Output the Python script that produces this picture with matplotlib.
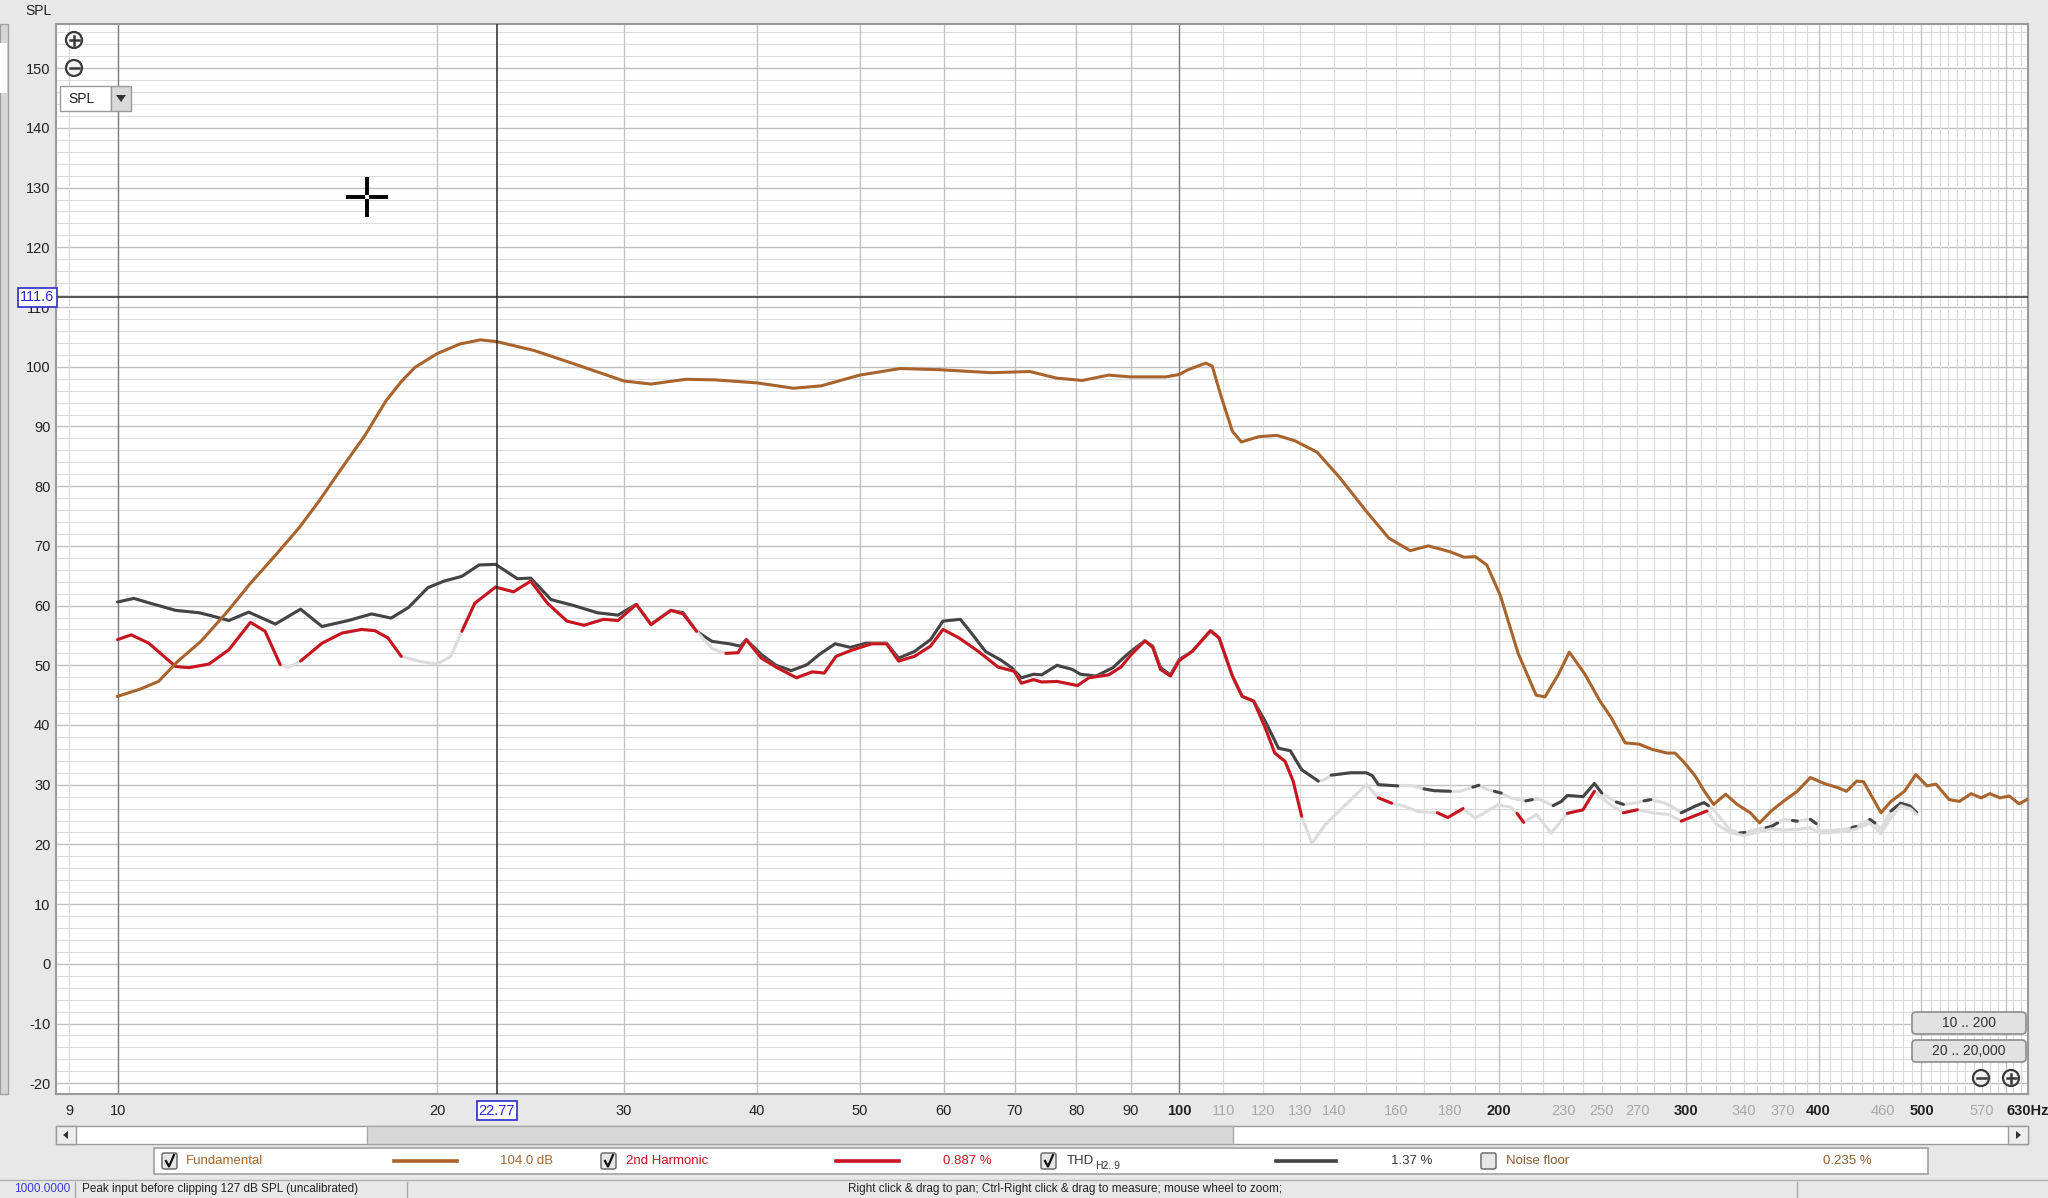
import numpy as np
import matplotlib
matplotlib.use('Agg')
import matplotlib.pyplot as plt
from matplotlib.patches import Rectangle, FancyBboxPatch, Circle, Polygon
from matplotlib.ticker import NullLocator, NullFormatter

plt.rcParams['font.family'] = ['Liberation Sans', 'DejaVu Sans']

# ---------------- data ----------------
fund_freq = [10, 10.5, 10.93, 11.4, 11.98, 12.69, 13.32, 14.11, 14.82, 15.48, 16.2, 17.1, 17.9,
             18.5, 19.06, 20.0, 21.0, 21.96, 22.77, 24.7, 27.2, 30.0, 31.8, 34.3, 36.5, 40, 43.3, 46,
             50, 54.6, 59.5, 66.5, 72.3, 76.6, 81, 85.8, 89.8, 97.1, 100, 101.9, 105.9, 107.4,
             109.5, 112.2, 114.4, 118.9, 123.6, 128.5, 134.8, 141.5, 150, 157.5, 165, 171.6, 180,
             185.4, 190, 194.8, 200.6, 208.5, 216.8, 221, 227.6, 233, 241, 249, 255, 263, 271,
             279, 288, 293, 299, 306, 312, 318.6, 327, 335.3, 345, 352, 361, 370.5, 382, 393,
             405, 417, 425, 434.5, 441, 458, 468, 482, 494, 506, 516, 531, 543, 557, 569, 580,
             593, 605, 618, 630]
fund_db = [44.8, 46.0, 47.3, 50.7, 54.0, 59.0, 63.6, 68.6, 73.0, 77.5, 82.6, 88.5, 94.3,
           97.5, 99.9, 102.2, 103.8, 104.5, 104.2, 102.7, 100.2, 97.6, 97.1, 97.9, 97.8, 97.3, 96.4, 96.8,
           98.6, 99.7, 99.5, 99.0, 99.2, 98.1, 97.7, 98.6, 98.3, 98.3, 98.7, 99.5, 100.6, 100.1,
           95.0, 89.2, 87.4, 88.3, 88.5, 87.6, 85.7, 81.5, 75.8, 71.3, 69.2, 70.0, 69.0,
           68.1, 68.2, 66.8, 61.7, 52.0, 45.0, 44.7, 48.5, 52.2, 48.5, 44.0, 41.3, 37.0, 36.8,
           35.9, 35.3, 35.3, 33.7, 31.5, 29.0, 26.7, 28.4, 26.7, 25.3, 23.6, 25.6, 27.2, 28.9, 31.2,
           30.2, 29.5, 28.9, 30.6, 30.5, 25.3, 27.2, 28.9, 31.7, 29.8, 30.1, 27.5, 27.2, 28.5, 27.8, 28.5,
           27.8, 28.1, 26.8, 27.6]

h2_freq = [10, 10.3, 10.7, 11.34, 11.67, 12.19, 12.73, 13.34, 13.77, 14.23, 14.5, 14.87, 15.58,
           16.27, 16.97, 17.47, 17.97, 18.5, 19.2, 20, 20.6, 21.1, 21.7, 22.7, 23.6, 24.5, 25.4,
           26.5, 27.5, 28.7, 29.6, 30.8, 31.8, 33.2, 34.1, 35.1, 36.3, 37.4, 38.4, 39.1, 40.4,
           41.7, 43.6, 45.1, 46.3, 47.5, 49.1, 51.3, 53, 54.4, 56.3, 58.3, 59.9, 62, 64.7, 67.5,
           69.9, 71, 72.9, 74.2, 76.7, 80.2, 82.2, 85.8, 88.1, 90, 92.8, 94.4, 96, 98.1, 100,
           102.8, 107, 109, 112.2, 114.6, 117.5, 120.5, 123, 125.8, 128, 130.4, 133.3, 137.2,
           143, 150, 154, 158.5, 163, 167.8, 175, 179, 185, 190, 199.5, 205, 208, 211, 217, 224,
           232, 240, 246, 254, 262, 270, 279, 289, 297, 308, 314, 320, 330, 340, 350, 361, 370,
           382, 393, 401, 410, 425, 434, 447, 458, 468, 478, 488, 495]
h2_db = [54.3, 55.1, 53.7, 49.8, 49.6, 50.2, 52.6, 57.2, 55.7, 50.1, 49.7, 50.7, 53.7,
         55.4, 56.0, 55.8, 54.6, 51.5, 50.7, 50.2, 51.5, 55.7, 60.4, 63.1, 62.3, 64.1, 60.4,
         57.4, 56.7, 57.7, 57.5, 60.2, 56.8, 59.2, 58.6, 55.7, 52.8, 52.0, 52.1, 54.3, 51.2,
         49.7, 47.9, 48.9, 48.7, 51.5, 52.5, 53.6, 53.6, 50.7, 51.5, 53.2, 56.0, 54.6, 52.3, 49.7,
         49.0, 47.0, 47.6, 47.2, 47.3, 46.6, 47.9, 48.4, 49.7, 51.7, 54.1, 53.0, 49.3, 48.2, 50.8,
         52.3, 55.8, 54.6, 48.2, 44.8, 44.0, 39.5, 35.3, 33.9, 30.6, 24.7, 20.2, 23.3,
         26.4, 30.0, 27.8, 26.9, 26.4, 25.5, 25.3, 24.5, 26.0, 24.4, 26.6, 26.3, 25.2, 23.7, 25.0, 21.9,
         25.2, 25.8, 28.9, 26.8, 25.3, 25.8, 25.3, 25.0, 23.9, 25.0, 25.6, 23.5, 22.0, 21.5, 22.0, 22.6, 22.4,
         22.5, 22.8, 21.9, 22.0, 22.2, 22.6, 23.6, 21.8, 24.5, 26.5, 26.0, 25.0]
h2_above = [1, 1, 1, 1, 1, 1, 1, 1, 1, 1, 0, 1, 1,
            1, 1, 1, 1, 1, 0, 0, 0, 1, 1, 1, 1, 1, 1,
            1, 1, 1, 1, 1, 1, 1, 1, 1, 0, 1, 1, 1, 1,
            1, 1, 1, 1, 1, 1, 1, 1, 1, 1, 1, 1, 1, 1, 1,
            1, 1, 1, 1, 1, 1, 1, 1, 1, 1, 1, 1, 1, 1, 1,
            1, 1, 1, 1, 1, 1, 1, 1, 1, 1, 1, 0, 0,
            0, 0, 1, 1, 0, 0, 1, 1, 1, 0, 0, 0, 1, 1, 0, 0,
            1, 1, 1, 0, 1, 1, 0, 0, 1, 1, 1, 0, 0, 0, 0, 0, 0,
            0, 0, 0, 0, 0, 0, 0, 0, 0, 0, 0, 0]

thd_freq = [10, 10.36, 10.78, 11.34, 11.93, 12.19, 12.73, 13.29, 14.08, 14.87, 15.58, 16.5, 17.35,
            18.1, 18.8, 19.6, 20.3, 21.1, 21.9, 22.7, 23.8, 24.5, 25.6, 26.9, 28.3, 29.6, 30.8,
            31.8, 33.2, 34.1, 35.1, 36.3, 37.7, 38.6, 39.1, 40.4, 41.7, 43.1, 44.6, 45.8, 47.4,
            49, 50.7, 53, 54.4, 56.3, 58.3, 59.9, 62.2, 63.7, 65.7, 68, 69.5, 71, 72.9, 74.2,
            76.7, 79.3, 80.7, 83.5, 86.6, 88.9, 90, 92.8, 94.4, 96, 98.1, 100, 102.8, 107, 109,
            112.2, 114.6, 117.5, 120.5, 124, 127.2, 130.4, 135.2, 137, 139, 145, 150, 152, 154,
            160.6, 163, 166, 170, 173.8, 180, 184, 189, 191.5, 195, 198, 201, 205, 209, 212, 215,
            218, 225, 229, 232, 240, 246, 250, 254, 258, 262, 266, 270, 274, 278, 282, 286, 292,
            297, 302, 306, 312, 315, 318.6, 330, 337, 341, 349, 357, 361, 366, 370.5, 378, 382,
            388, 393, 398, 401, 410, 425, 430, 434, 440, 447, 452, 458, 468, 478, 488, 495]
thd_db = [60.6, 61.2, 60.3, 59.2, 58.8, 58.4, 57.5, 58.9, 56.9, 59.4, 56.5, 57.5, 58.6,
          57.9, 59.7, 63.0, 64.1, 64.9, 66.8, 66.9, 64.5, 64.6, 61.0, 60.0, 58.8, 58.4, 60.2,
          56.9, 59.2, 58.8, 55.7, 54.0, 53.6, 53.2, 54.3, 51.8, 50.0, 49.1, 50.1, 51.8, 53.6,
          53.0, 53.7, 53.7, 51.2, 52.3, 54.3, 57.4, 57.7, 55.4, 52.3, 50.8, 49.6, 47.9, 48.5, 48.4,
          50.0, 49.3, 48.5, 48.2, 49.6, 51.5, 52.3, 54.1, 53.2, 49.6, 48.4, 51.0, 52.3, 55.8, 54.6,
          48.2, 44.8, 44.0, 40.6, 36.1, 35.7, 32.5, 30.6, 30.8, 31.6, 32.0, 32.0, 31.5, 30.0,
          29.8, 29.9, 29.8, 29.3, 29.0, 28.9, 28.9, 29.6, 29.9, 29.2, 28.9, 28.6, 27.8, 27.5, 27.3, 27.5,
          27.6, 26.5, 27.2, 28.2, 28.0, 30.2, 28.6, 27.8, 27.1, 26.7, 26.8, 27.0, 27.3, 27.5, 27.2, 27.0, 26.2,
          25.3, 25.9, 26.4, 27.0, 26.5, 25.8, 22.5, 21.9, 22.0, 22.5, 22.8, 23.0, 23.6, 24.2, 24.0, 23.9,
          24.1, 24.2, 23.5, 22.3, 22.3, 22.6, 22.8, 23.0, 23.5, 24.2, 23.6, 22.6, 25.6, 26.9, 26.4, 25.3]
thd_above = [1, 1, 1, 1, 1, 1, 1, 1, 1, 1, 1, 1, 1,
             1, 1, 1, 1, 1, 1, 1, 1, 1, 1, 1, 1, 1, 1,
             1, 1, 1, 1, 1, 1, 1, 1, 1, 1, 1, 1, 1, 1,
             1, 1, 1, 1, 1, 1, 1, 1, 1, 1, 1, 1, 1, 1, 1,
             1, 1, 1, 1, 1, 1, 1, 1, 1, 1, 1, 1, 1, 1, 1,
             1, 1, 1, 1, 1, 1, 1, 1, 0, 1, 1, 1, 1, 1,
             1, 0, 0, 1, 1, 1, 0, 1, 1, 0, 1, 1, 0, 0, 1, 1,
             0, 1, 1, 1, 1, 1, 1, 0, 1, 1, 0, 0, 1, 1, 0, 0, 0,
             1, 1, 1, 1, 1, 0, 0, 1, 1, 0, 1, 1, 1, 0, 1, 1,
             0, 1, 1, 0, 0, 0, 1, 1, 0, 1, 1, 0, 1, 1, 1, 1]

cursor_freq = 22.77
cursor_spl = 111.6
y_ticks = list(range(-20, 151, 10))
x_ticks = [9, 10, 20, 30, 40, 50, 60, 70, 80, 90, 100, 110, 120, 130, 140, 160, 180, 200,
           230, 250, 270, 300, 340, 370, 400, 460, 500, 570, 630]
x_tick_text = [str(v) for v in x_ticks[:-1]] + ['630Hz']
x_grey_labels = [110, 120, 130, 140, 160, 180, 230, 250, 270, 340, 370, 460, 570]
x_bold_labels = [100, 200, 300, 400, 500, 630]
legend_names = ['Fundamental', '2nd Harmonic', 'THD', 'Noise floor']
legend_values = ['104.0 dB', '0.887 %', '1.37 %', '0.235 %']

# ---------------- style ----------------
W, H = 2048, 1198
BROWN = '#A8642C'
RED = '#C8141E'
DARK = '#444444'
LIGHT = '#DCDCDC'
LW = 2.2

fig = plt.figure(figsize=(W / 100, H / 100), dpi=100, facecolor='#E8E8E8')
L, R, T, B = 56, 2028, 24, 1094
ax = fig.add_axes([L / W, 1 - B / H, (R - L) / W, (B - T) / H], zorder=2)
ax.set_facecolor('white')
ax.set_xscale('log')
ax.set_xlim(8.75, 630)
ax.set_ylim(-21.8, 157.4)

# grid
for v in range(-20, 158, 2):
    major = (v % 10 == 0)
    ax.axhline(v, color='#C0C0C0' if major else '#DCDCDC', lw=1.0 if major else 0.8, zorder=0.5)
minor_v = [9] + list(range(110, 200, 10)) + [v for v in range(210, 630, 10) if v % 100]
for v in minor_v:
    ax.axvline(v, color='#DADADA', lw=0.8, zorder=0.6)
for v in list(range(20, 100, 10)) + [200, 300, 400, 500, 600]:
    ax.axvline(v, color='#C2C2C2', lw=1.0, zorder=0.7)
for v in [10, 100]:
    ax.axvline(v, color='#7A7A7A', lw=1.0, zorder=0.8)


def draw_harm(f, d, above, color, z):
    f = np.asarray(f, float)
    d = np.asarray(d, float)
    a = np.asarray(above, bool)
    ax.plot(f, d, color=LIGHT, lw=LW, zorder=z - 1, solid_capstyle='round', solid_joinstyle='round')
    dc = np.where(a, d, np.nan)
    ax.plot(f, dc, color=color, lw=LW, zorder=z, solid_capstyle='round', solid_joinstyle='round')


draw_harm(thd_freq, thd_db, thd_above, DARK, 4)
draw_harm(h2_freq, h2_db, h2_above, RED, 5)
ax.plot(fund_freq, fund_db, color=BROWN, lw=LW, zorder=6, solid_joinstyle='round')

# cursor
ax.axvline(cursor_freq, color='#2A2A2A', lw=1.1, zorder=7)
ax.axhline(cursor_spl, color='#2A2A2A', lw=1.1, zorder=7)

# ticks
ax.xaxis.set_minor_locator(NullLocator())
ax.xaxis.set_minor_formatter(NullFormatter())
ax.set_xticks(x_ticks, x_tick_text)
ax.set_yticks(y_ticks, [str(v) for v in y_ticks])
ax.tick_params(axis='both', length=0, labelsize=10.5, colors='#222222')
ax.tick_params(axis='x', pad=7)
ax.tick_params(axis='y', pad=4)
for lab, v in zip(ax.get_xticklabels(), x_ticks):
    if v in x_grey_labels:
        lab.set_color('#A8A8A8')
    if v in x_bold_labels:
        lab.set_fontweight('bold')
for s in ax.spines.values():
    s.set_color('#9A9A9A')
    s.set_linewidth(1.5)

# cursor value boxes
ax.annotate(f'{cursor_freq:.2f}', xy=(cursor_freq, 0), xycoords=('data', 'axes fraction'),
            xytext=(0, -12), textcoords='offset points', ha='center', va='center',
            fontsize=10.5, color='#2A2AD0', zorder=10, annotation_clip=False,
            bbox=dict(boxstyle='square,pad=0.15', fc='white', ec='#2A2AD0', lw=1.2))
ax.annotate(f'{cursor_spl:.1f}', xy=(0, cursor_spl), xycoords=('axes fraction', 'data'),
            xytext=(-1, 0), textcoords='offset points', ha='right', va='center',
            fontsize=10.5, color='#2A2AD0', zorder=10, annotation_clip=False,
            bbox=dict(boxstyle='square,pad=0.15', fc='white', ec='#2A2AD0', lw=1.2))

# ---------------- overlay UI ----------------
ov = fig.add_axes([0, 0, 1, 1], zorder=5)
ov.set_xlim(0, W)
ov.set_ylim(H, 0)
ov.axis('off')
ov.patch.set_alpha(0)

ov.text(38, 11, 'SPL', ha='center', va='center', fontsize=10, color='#222222')
# left strip
ov.add_patch(Rectangle((0, 24), 8, 1070, fc='#D6D6D6', ec='#A0A0A0', lw=1))
ov.add_patch(Rectangle((0, 43), 7, 50, fc='white', ec='none'))


def circ_button(x, y, plus):
    ov.add_patch(Circle((x, y), 8, fc='#F2F2F2', ec='#3A3A3A', lw=1.6, zorder=6))
    ov.plot([x - 4.5, x + 4.5], [y, y], color='#3A3A3A', lw=1.8, zorder=7)
    if plus:
        ov.plot([x, x], [y - 4.5, y + 4.5], color='#3A3A3A', lw=1.8, zorder=7)


circ_button(74, 40, True)
circ_button(74, 68, False)
# dropdown
ov.add_patch(Rectangle((60, 86), 51, 25, fc='white', ec='#9A9A9A', lw=1))
ov.add_patch(Rectangle((111, 86), 20, 25, fc='#DADADA', ec='#9A9A9A', lw=1))
ov.text(68, 99, 'SPL', ha='left', va='center', fontsize=10, color='#222222')
ov.add_patch(Polygon([[116, 95], [126, 95], [121, 102]], closed=True, fc='#333333', ec='none'))
# crosshair cursor
for xs, ys in [([346, 365], [197, 197]), ([369, 388], [197, 197]),
               ([367, 367], [177, 195]), ([367, 367], [199, 217])]:
    ov.plot(xs, ys, color='black', lw=2.8, solid_capstyle='butt')

# bottom right buttons
for (y0, txt) in [(1012, '10 .. 200'), (1040, '20 .. 20,000')]:
    ov.add_patch(FancyBboxPatch((1912, y0), 114, 22, boxstyle='round,pad=0,rounding_size=4',
                                fc='#E2E2E2', ec='#8C8C8C', lw=1.2))
    ov.text(1969, y0 + 11, txt, ha='center', va='center', fontsize=10, color='#333333')
circ_button(1981, 1078, False)
circ_button(2011, 1078, True)

# horizontal scrollbar
ov.add_patch(Rectangle((56, 1126), 1972, 18, fc='white', ec='#9A9A9A', lw=1))
ov.add_patch(Rectangle((367, 1126), 866, 18, fc='#D8D8D8', ec='#A8A8A8', lw=1))
ov.add_patch(Rectangle((56, 1126), 20, 18, fc='#EEEEEE', ec='#9A9A9A', lw=1))
ov.add_patch(Rectangle((2008, 1126), 20, 18, fc='#EEEEEE', ec='#9A9A9A', lw=1))
ov.add_patch(Polygon([[63, 1135], [68, 1131], [68, 1139]], closed=True, fc='#333333', ec='none'))
ov.add_patch(Polygon([[2021, 1135], [2016, 1131], [2016, 1139]], closed=True, fc='#333333', ec='none'))

# legend panel
ov.add_patch(Rectangle((154, 1148), 1774, 26, fc='white', ec='#A0A0A0', lw=1.2))
leg_colors = [BROWN, RED, '#333333', '#8E5C2C']
leg_box_x = [162, 601, 1041, 1481]
leg_text_x = [186, 626, 1067, 1506]
leg_line_x = [(394, 457), (836, 899), (1276, 1336), None]
leg_val_x = [500, 943, 1391, 1823]
leg_checked = [True, True, True, False]
for i in range(4):
    bx = leg_box_x[i]
    ov.add_patch(FancyBboxPatch((bx, 1153), 15, 16, boxstyle='round,pad=0,rounding_size=2',
                                fc='#E6E6E6', ec='#6E6E6E', lw=1.1))
    if leg_checked[i]:
        ov.plot([bx + 4, bx + 7, bx + 12], [1161, 1166.5, 1155], color='#111111', lw=1.6)
    ov.text(leg_text_x[i], 1161, legend_names[i], ha='left', va='center', fontsize=9.5,
            color=leg_colors[i])
    if leg_line_x[i] is not None:
        ov.plot(leg_line_x[i], [1161, 1161], color=[BROWN, RED, DARK][i], lw=2.6)
    ov.text(leg_val_x[i], 1161, legend_values[i], ha='left', va='center', fontsize=9.5,
            color=leg_colors[i])
ov.text(1095, 1166, 'H2..9', ha='left', va='center', fontsize=7.5, color='#333333')

# status bar
ov.plot([0, W], [1180, 1180], color='#B0B0B0', lw=1)
for sx in [75, 407, 1797]:
    ov.plot([sx, sx], [1182, H], color='#A8A8A8', lw=1)
ov.text(70, 1189, '1000.0000', ha='right', va='center', fontsize=8.5, color='#3A3AD8')
ov.text(82, 1189, 'Peak input before clipping 127 dB SPL (uncalibrated)', ha='left', va='center',
        fontsize=8.5, color='#222222')
ov.text(848, 1189, 'Right click & drag to pan; Ctrl-Right click & drag to measure; mouse wheel to zoom;',
        ha='left', va='center', fontsize=8.5, color='#222222')

fig.savefig('out.png', dpi=100, facecolor=fig.get_facecolor())
